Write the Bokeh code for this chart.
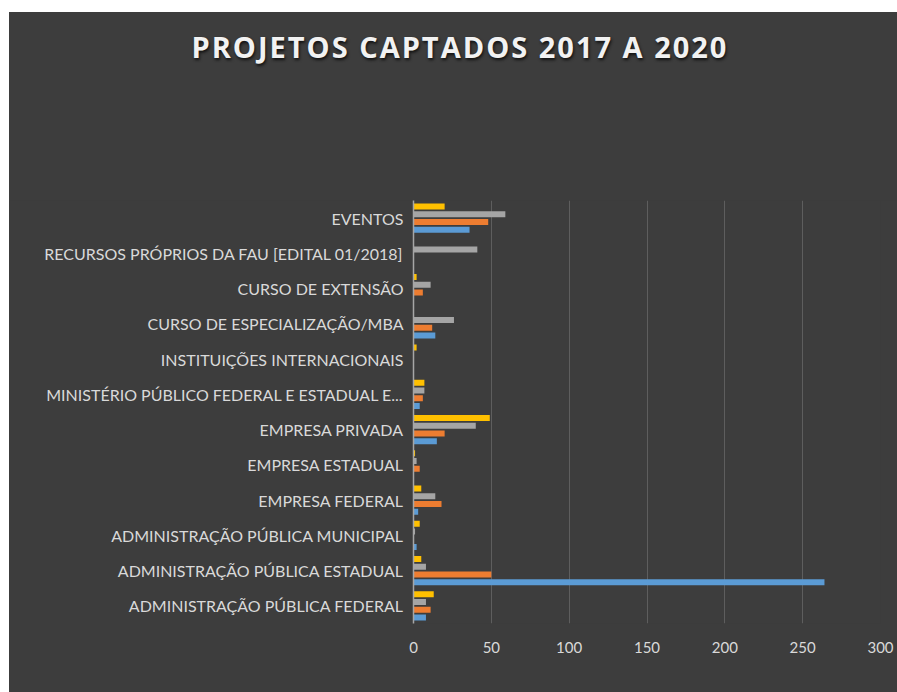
from bokeh.plotting import figure
from bokeh.models import (FactorRange, Range1d, FixedTicker, Legend, LegendItem,
                          ColumnDataSource, Div)
from bokeh.layouts import column
from bokeh.transform import dodge
from bokeh.embed import file_html
from bokeh.resources import INLINE

title_text = "PROJETOS CAPTADOS 2017 A 2020"

categories = [
    "EVENTOS",
    "RECURSOS PRÓPRIOS DA FAU [EDITAL 01/2018]",
    "CURSO DE EXTENSÃO",
    "CURSO DE ESPECIALIZAÇÃO/MBA",
    "INSTITUIÇÕES INTERNACIONAIS",
    "MINISTÉRIO PÚBLICO FEDERAL E ESTADUAL E...",
    "EMPRESA PRIVADA",
    "EMPRESA ESTADUAL",
    "EMPRESA FEDERAL",
    "ADMINISTRAÇÃO PÚBLICA MUNICIPAL",
    "ADMINISTRAÇÃO PÚBLICA ESTADUAL",
    "ADMINISTRAÇÃO PÚBLICA FEDERAL",
]

years = ["2020", "2019", "2018", "2017"]
v2020 = [20, 0, 2, 0, 2, 7, 49, 1, 5, 4, 5, 13]
v2019 = [59, 41, 11, 26, 0, 7, 40, 2, 14, 1, 8, 8]
v2018 = [48, 0, 6, 12, 0, 6, 20, 4, 18, 0, 50, 11]
v2017 = [36, 0, 0, 14, 0, 4, 15, 0, 3, 2, 264, 8]
x_ticks = [0, 50, 100, 150, 200, 250, 300]

colors = {"2020": "#FFC000", "2019": "#A5A5A5", "2018": "#ED7D31", "2017": "#5B9BD5"}
offsets = {"2020": 0.33, "2019": 0.11, "2018": -0.11, "2017": -0.33}

source = ColumnDataSource(data=dict(cat=categories, y2020=v2020, y2019=v2019,
                                    y2018=v2018, y2017=v2017))

BG = "#3d3d3d"
TXT = "#d9d9d9"
FONT = "Lato"

title_div = Div(
    text=('<div style="width:888px;height:188px;padding:15px 0 0 14px;'
          'box-sizing:border-box;text-align:center;font-family:\'Open Sans\';'
          'font-weight:bold;font-size:29px;line-height:40px;letter-spacing:2px;'
          'color:#f2f2f2;text-shadow:1px 2px 3px #111;">' + title_text + '</div>'),
    width=888, height=188, margin=0,
    styles={"background-color": BG},
)

fig = figure(frame_width=467, frame_height=423, output_backend="svg", toolbar_location=None,
             y_range=FactorRange(factors=categories[::-1]), x_range=Range1d(0, 300),
             min_border_left=404, min_border_right=17, min_border_top=0,
             min_border_bottom=0)

fig.background_fill_color = BG
fig.border_fill_color = BG
fig.outline_line_color = None

renderers = {}
for yr in years:
    r = fig.hbar(y=dodge("cat", offsets[yr], range=fig.y_range), right="y" + yr, left=0,
                 height=0.17, source=source, fill_color=colors[yr], line_color=None)
    renderers[yr] = r

fig.xaxis.ticker = FixedTicker(ticks=x_ticks)
fig.xaxis.axis_label = None
fig.xaxis.axis_label_standoff = 0
fig.xaxis.axis_label_text_font_size = "0px"
fig.xaxis.axis_line_color = None
fig.xaxis.major_tick_line_color = None
fig.xaxis.minor_tick_line_color = None
fig.xaxis.major_tick_out = 0
fig.xaxis.major_tick_in = 0
fig.xaxis.minor_tick_out = 0
fig.xaxis.major_label_standoff = 18
fig.xaxis.major_label_text_font = FONT
fig.xaxis.major_label_text_font_size = "15px"
fig.xaxis.major_label_text_color = TXT

fig.yaxis.axis_line_color = "#a6a6a6"
fig.yaxis.axis_line_width = 1.5
fig.yaxis.major_tick_line_color = None
fig.yaxis.minor_tick_line_color = None
fig.yaxis.major_tick_out = 0
fig.yaxis.major_tick_in = 0
fig.yaxis.major_label_standoff = 10
fig.yaxis.major_label_text_font = FONT
fig.yaxis.major_label_text_font_size = "16px"
fig.yaxis.major_label_text_color = TXT

fig.ygrid.grid_line_color = None
fig.xgrid.ticker = FixedTicker(ticks=x_ticks)
fig.xgrid.grid_line_color = "#5e5e5e"
fig.xgrid.grid_line_width = 1

legend = Legend(items=[LegendItem(label=yr, renderers=[renderers[yr]]) for yr in years],
                orientation="horizontal", location=(-77, 0),
                padding=0, margin=0, spacing=17, label_standoff=6,
                glyph_width=10, glyph_height=10,
                background_fill_alpha=0, border_line_color=None,
                label_text_font=FONT, label_text_font_size="15px",
                label_text_color=TXT)
fig.add_layout(legend, "below")

bottom_fill = Div(text="", width=888, height=20, margin=0,
                  styles={"background-color": BG})

p = column(title_div, fig, bottom_fill, margin=(12, 0, 0, 9), spacing=0,
           styles={"background-color": BG})

open("out.html", "w").write(file_html(p, INLINE))
